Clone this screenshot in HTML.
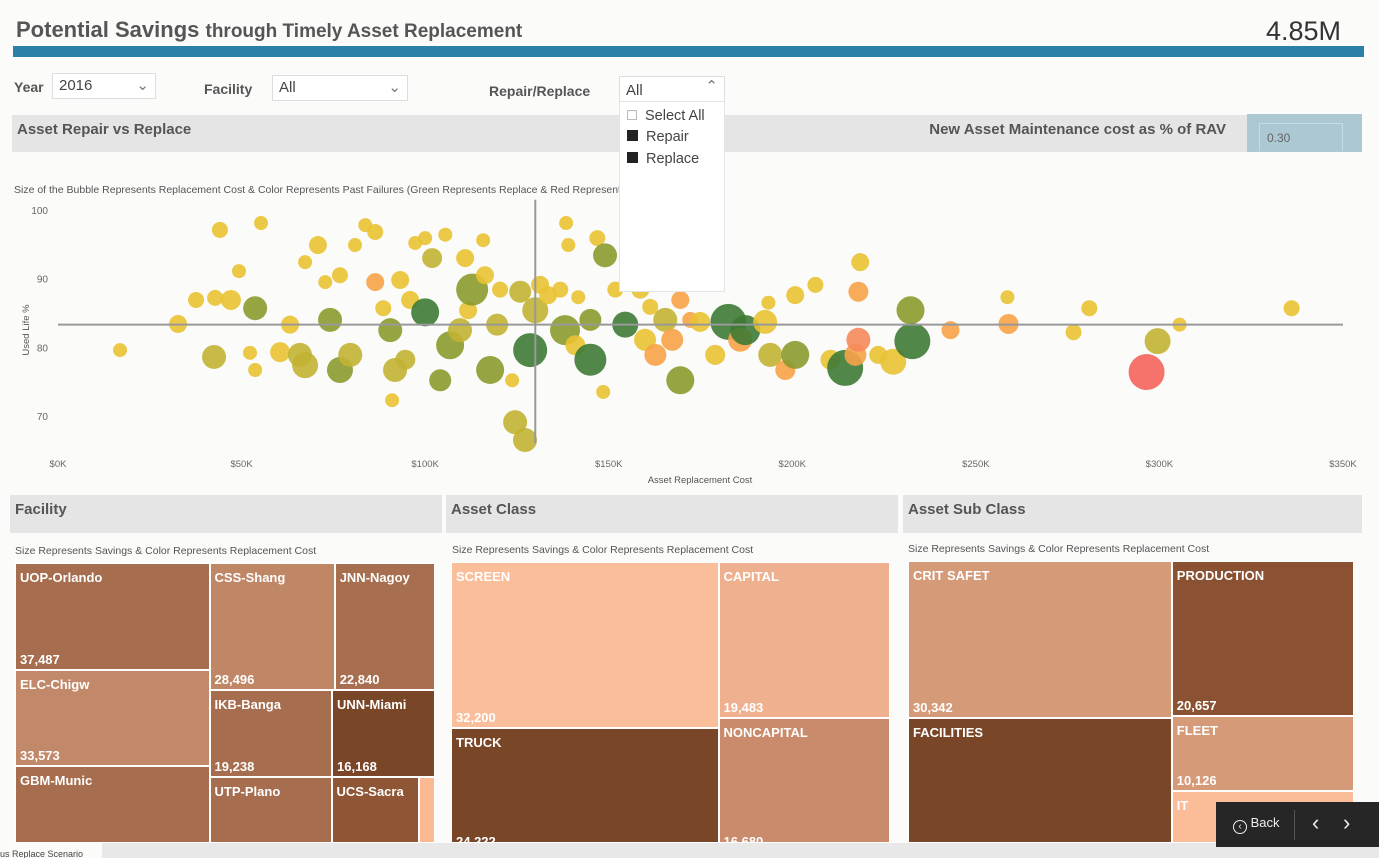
<!DOCTYPE html>
<html><head><meta charset="utf-8">
<style>
*{box-sizing:border-box;margin:0;padding:0}
body{width:1379px;height:858px;overflow:hidden;background:#fbfbfa;font-family:"Liberation Sans",sans-serif;position:relative;color:#555}
.abs{position:absolute}
.hdr{background:#e5e5e5;font-weight:bold;color:#555;font-size:15px;padding:6px 0 0 5px}
.lbl{font-weight:bold;font-size:14px;color:#555}
.sel{border:1px solid #ddd;background:#fff;font-size:15px;color:#444;padding:3px 6px}
.sub{font-size:10.5px;color:#555}
.tm{position:absolute;overflow:hidden;border:1px solid #fff;color:#fff;font-size:13px;font-weight:bold}
.tm .n{position:absolute;left:4px;top:6px}
.tm .v{position:absolute;left:4px;bottom:2px}
</style></head><body>
<div class="abs" style="left:16px;top:17px;font-weight:bold;color:#555;font-size:22px">Potential Savings <span style="font-size:19px">through Timely Asset Replacement</span></div>
<div class="abs" style="left:1266px;top:16px;font-size:27px;color:#333">4.85M</div>
<div class="abs" style="left:13px;top:46px;width:1351px;height:11px;background:#2a80a8"></div>

<div class="abs lbl" style="left:14px;top:79px">Year</div>
<div class="abs sel" style="left:52px;top:73px;width:104px;height:26px">2016<span style="position:absolute;right:6px;top:2px;color:#777">&#8964;</span></div>
<div class="abs lbl" style="left:204px;top:81px">Facility</div>
<div class="abs sel" style="left:272px;top:75px;width:136px;height:26px">All<span style="position:absolute;right:6px;top:2px;color:#777">&#8964;</span></div>
<div class="abs lbl" style="left:489px;top:83px">Repair/Replace</div>
<div class="abs sel" style="left:619px;top:76px;width:106px;height:26px;padding-top:5px">All<span style="position:absolute;right:6px;top:0px;color:#777">&#8963;</span></div>

<div class="abs hdr" style="left:12px;top:115px;width:1236px;height:37px">Asset Repair vs Replace<span style="position:absolute;right:22px;top:6px">New Asset Maintenance cost as % of RAV</span></div>
<div class="abs" style="left:1247px;top:114px;width:115px;height:38px;background:#abc8d3"><div style="position:absolute;left:12px;top:9px;width:84px;height:28px;border:1px solid #c7dbe2;border-bottom:none;font-size:12px;color:#666;padding:7px 0 0 7px">0.30</div></div>
<div class="abs sub" style="left:14px;top:184px">Size of the Bubble Represents Replacement Cost &amp; Color Represents Past Failures (Green Represents Replace &amp; Red Represents Repair)</div>

<svg class="abs" id="bub" style="left:0;top:195px" width="1379" height="295"></svg>

<div class="abs" style="left:619px;top:101px;width:106px;height:191px;background:#fff;border:1px solid #e3e3e3;font-size:14.5px;color:#444">
<div style="position:absolute;left:7px;top:6px"><span style="display:inline-block;width:10px;height:10px;border:1px solid #bbb;margin-right:8px"></span>Select All</div>
<div style="position:absolute;left:7px;top:27px"><span style="display:inline-block;width:11px;height:11px;background:#222;margin-right:8px"></span>Repair</div>
<div style="position:absolute;left:7px;top:49px"><span style="display:inline-block;width:11px;height:11px;background:#222;margin-right:8px"></span>Replace</div>
</div>

<div class="abs hdr" style="left:10px;top:495px;width:432px;height:38px">Facility</div>
<div class="abs hdr" style="left:446px;top:495px;width:452px;height:38px">Asset Class</div>
<div class="abs hdr" style="left:903px;top:495px;width:459px;height:38px">Asset Sub Class</div>
<div class="abs sub" style="left:15px;top:545px">Size Represents Savings &amp; Color Represents Replacement Cost</div>
<div class="abs sub" style="left:452px;top:544px">Size Represents Savings &amp; Color Represents Replacement Cost</div>
<div class="abs sub" style="left:908px;top:543px">Size Represents Savings &amp; Color Represents Replacement Cost</div>

<div id="tms"></div>

<div class="abs" style="left:0;top:843px;width:1379px;height:15px;background:#e8e8e8"></div>
<div class="abs" style="left:0;top:843px;width:102px;height:15px;background:#fbfbfa;font-size:9px;color:#444;padding-top:6px;white-space:nowrap;overflow:hidden">us Replace Scenario</div>
<div class="abs" style="left:1216px;top:802px;width:163px;height:45px;background:#262626;color:#eee;font-size:13px">
<div style="position:absolute;left:17px;top:13px"><span style="display:inline-block;width:14px;height:14px;border:1.5px solid #eee;border-radius:50%;font-size:10px;line-height:11px;text-align:center;vertical-align:-2px">&lsaquo;</span> Back</div>
<div style="position:absolute;left:78px;top:8px;width:1px;height:30px;background:#555"></div>
<div style="position:absolute;left:96px;top:8px;font-size:22px">&lsaquo;</div>
<div style="position:absolute;left:127px;top:8px;font-size:22px">&rsaquo;</div>
</div>

<script>
// Bubble data: replacement cost (K), used life %, bubble size, failure category
const costK=[16.9,32.7,37.6,44.1,42.5,42.8,47.1,49.3,53.7,52.3,53.7,55.3,60.5,63.2,65.9,67.3,67.3,70.8,72.8,74.1,76.8,76.8,80.9,79.6,83.7,86.4,86.4,88.6,90.5,91.8,91,93.2,94.6,95.9,97.3,100,100,101.9,104.1,105.5,106.8,109.5,110.9,111.7,112.8,115.8,116.3,117.7,119.6,120.4,123.7,124.5,125.9,127.2,128.6,130,131.3,133.5,136.8,138.4,139,138.1,140.9,141.7,145,145,146.9,148.5,149,151.8,154.5,158.6,159.9,161.3,162.7,164,165.4,167.3,169.5,169.5,172.2,174.9,179,182.6,185.8,187.2,192.6,193.5,194,198.1,200.8,200.8,206.3,210.4,214.4,217.2,218,218.5,218,223.4,227.5,232.2,232.7,243.1,258.6,258.9,276.6,280.9,296.5,299.5,305.5,336];
const usedLife=[79.6,83.4,86.9,97.1,78.6,87.2,86.9,91.1,85.7,79.2,76.7,98.1,79.3,83.3,78.9,92.4,77.4,94.9,89.5,84,76.7,90.5,94.9,78.9,97.8,96.8,89.5,85.7,82.5,76.7,72.3,89.8,78.2,86.9,95.2,95.9,85.1,93,75.2,96.4,80.3,82.5,93,85.4,88.4,95.6,90.5,76.7,83.3,88.4,75.2,69.1,88.1,66.5,79.6,85.4,89.1,87.6,88.4,98.1,94.9,82.5,80.3,87.3,78.2,84,95.9,73.5,93.4,88.4,83.3,88.4,81.1,85.9,78.9,91.3,84,81.1,75.2,86.9,84,83.7,78.9,83.7,81.1,82.5,83.7,86.5,78.9,76.7,78.9,87.6,89.1,78.2,77,78.9,88.1,92.4,81.1,78.9,77.9,85.4,80.9,82.5,87.3,83.4,82.2,85.7,76.4,80.9,83.3,85.7];
const bubbleSize=[7,9,8,8,12,8,10,7,12,7,7,7,10,9,12,7,13,9,7,12,13,8,7,12,7,8,9,8,12,12,7,9,10,9,7,7,14,10,11,7,14,12,9,9,16,7,9,14,11,8,7,12,11,12,17,13,9,9,8,7,7,15,10,7,16,11,8,7,12,8,13,9,11,8,11,8,12,11,14,9,8,10,10,18,12,15,12,7,12,10,14,9,8,10,18,11,10,9,12,9,13,14,18,9,7,10,8,8,18,13,7,8];
const failCat="YYYYLYYYGYYYYYLYLYYGGYYLYYOYGLYYLYYYDLGYGLYYGYYGLYYLLLDLYYYYYGYYDGYYGYDYYYOYLOGOOYYDODYYLOGYYYDOOYSYYGDOYOYYRLYY".split("");
const xTicks=[0,50,100,150,200,250,300,350];
const yTicks=[70,80,90,100];
const catColor={Y:"#e9c232",L:"#c2b232",G:"#8c9a2e",D:"#3e7a34",O:"#f7a348",S:"#f58a5a",R:"#f4645a"};

const NS="http://www.w3.org/2000/svg";
const svg=document.getElementById('bub');
const X=v=>58+v*(1343-58)/350;
const Y=v=>15+(100-v)*(206/30);
function mk(t,a,p){const e=document.createElementNS(NS,t);for(const k in a)e.setAttribute(k,a[k]);(p||svg).appendChild(e);return e;}
xTicks.forEach(t=>{const e=mk('text',{x:X(t),y:272,'font-size':9.5,fill:'#666','text-anchor':'middle','font-family':'Liberation Sans'});e.textContent='$'+t+'K';

});
yTicks.forEach(t=>{const e=mk('text',{x:48,y:Y(t)+4,'font-size':10,fill:'#666','text-anchor':'end','font-family':'Liberation Sans'});e.textContent=t;

});
let e=mk('text',{x:700,y:288,'font-size':9.5,fill:'#555','text-anchor':'middle','font-family':'Liberation Sans'});e.textContent='Asset Replacement Cost';


e=mk('text',{x:0,y:0,'font-size':9.5,fill:'#555','text-anchor':'middle','font-family':'Liberation Sans',transform:'translate(29,135) rotate(-90)'});e.textContent='Used Life %';


costK.forEach((c,i)=>{const b=mk('circle',{cx:X(c),cy:Y(usedLife[i]),r:bubbleSize[i],fill:catColor[failCat[i]]||'#e9c232','fill-opacity':0.9});

});
const avgLife=83.3, avgCost=130;
e=mk('line',{x1:X(0),x2:X(350),y1:Y(avgLife),y2:Y(avgLife),stroke:'#999','stroke-width':2});


e=mk('line',{x1:X(avgCost),x2:X(avgCost),y1:Y(101.5),y2:Y(66),stroke:'#999','stroke-width':2});



// Treemap data
const facNames=["UOP-Orlando","ELC-Chigw","GBM-Munic","CSS-Shang","JNN-Nagoy","IKB-Banga","UNN-Miami","UTP-Plano","UCS-Sacra",""];
const facValues=[37487,33573,30100,28496,22840,19238,16168,16500,11900,2100];
const facColors=["#a66d4e","#c2886a","#a66d4e","#c08767","#a76e50","#a66d4e","#7a4628","#a66d4e","#8f5636","#fbb891"];
const clsNames=["SCREEN","TRUCK","CAPITAL","NONCAPITAL"];
const clsValues=[32200,24222,19483,16680];
const clsColors=["#fbbe9a","#7a4628","#eeb08f","#c98b6b"];
const subNames=["CRIT SAFET","FACILITIES","PRODUCTION","FLEET","IT"];
const subValues=[30342,25950,20657,10126,8100];
const subColors=["#d59b79","#7a4628","#8a5232","#d59b79","#fbbd98"];
// structure: columns -> rows -> item indices
const facTree=[[[0],[1],[2]],[[3,4],[5,6],[7,8,9]]];
const clsTree=[[[0],[1]],[[2],[3]]];
const subTree=[[[0],[1]],[[2],[3],[4]]];
const host=document.getElementById('tms');
function treemap(tree,vals,names,cols,x0,y0,w,h,clipB,key,hideClipped){
  const sum=a=>a.reduce((s,i)=>s+vals[i],0);
  const colSum=tree.map(c=>c.reduce((s,r)=>s+sum(r),0));
  const tot=colSum.reduce((a,b)=>a+b,0);
  let x=x0;
  tree.forEach((col,ci)=>{
    const cw=w*colSum[ci]/tot;let y=y0;
    col.forEach(row=>{
      const rh=h*sum(row)/colSum[ci];let xx=x;
      row.forEach(i=>{
        const iw=cw*vals[i]/sum(row);
        const d=document.createElement('div');d.className='tm';
        const vh=Math.min(rh,clipB-y);
        d.style.cssText=`left:${xx}px;top:${y}px;width:${iw}px;height:${Math.max(vh,0)}px;background:${cols[i]}`;
        
        
        if(names[i]){d.innerHTML=`<span class="n">${names[i]}</span>`;
          if(!(hideClipped && vh<rh-1)){
          const v=document.createElement('span');v.className='v';v.textContent=vals[i].toLocaleString('en-US');
          v.style.bottom=(vh<rh?(vh-rh+2):2)+'px';d.appendChild(v);}}
        host.appendChild(d);xx+=iw;});
      y+=rh;});
    x+=cw;});
}
treemap(facTree,facValues,facNames,facColors,15,563,420,289,843,'facility',true);
treemap(clsTree,clsValues,clsNames,clsColors,451,562,439,290,843,'asset-class',false);
treemap(subTree,subValues,subNames,subColors,908,561,446,291,843,'asset-sub-class',true);
</script>
</body></html>
